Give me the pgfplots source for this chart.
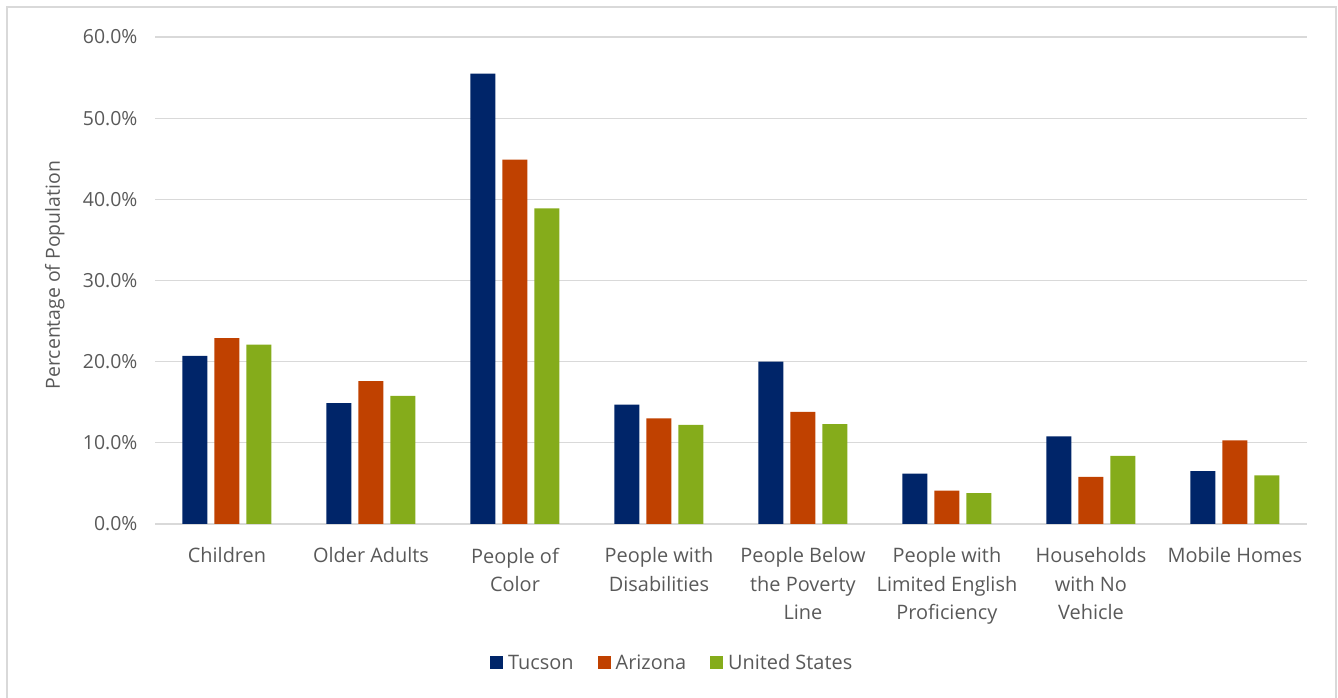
\documentclass[border=0pt]{standalone}
\usepackage{fontspec}
\setmainfont{Open Sans}
\usepackage{pgfplots}
\usepackage{pgfplotstable}
\pgfplotsset{compat=1.18}

\definecolor{tucson}{RGB}{0,37,105}
\definecolor{arizona}{RGB}{192,65,0}
\definecolor{usa}{RGB}{133,172,27}
\definecolor{txt}{RGB}{89,89,89}
\definecolor{gridc}{RGB}{217,217,217}

% Share of population in each group (percent)
\pgfplotstableread{
x tucson arizona us
0 20.7 22.9 22.1
1 14.9 17.6 15.8
2 55.5 44.9 38.9
3 14.7 13.0 12.2
4 20.0 13.8 12.3
5 6.2 4.1 3.8
6 10.8 5.8 8.4
7 6.5 10.3 6.0
}\groups

\begin{document}
\begin{tikzpicture}
\draw[gridc, line width=1.2bp] (7bp,0bp) -- (7bp,691bp) -- (1336bp,691bp) -- (1336bp,0bp);
\begin{axis}[
  at={(155bp,174bp)}, anchor=south west,
  scale only axis, width=1152bp, height=487bp,
  xmin=-0.5, xmax=7.5, ymin=0, ymax=60,
  ybar=7bp, bar width=25bp,
  axis line style={draw=none},
  tick style={draw=none},
  ymajorgrids, grid style={gridc, line width=1.3bp},
  ytick={0,10,...,60},
  yticklabel={\pgfmathprintnumber[fixed,fixed zerofill,precision=1]{\tick}\%},
  /pgf/number format/assume math mode=true,
  yticklabel style={font=\fontsize{19.5}{22}\selectfont, text=txt, xshift=-14bp},
  xtick={0,...,7},
  xticklabels={Children, Older Adults, People of\\Color, People with\\Disabilities,
    People Below\\the Poverty\\Line, People with\\Limited English\\Proficiency,
    Households\\with No\\Vehicle, Mobile Homes},
  xticklabel style={font=\fontsize{20}{28.5}\selectfont, text=txt, align=center, anchor=north, yshift=-16bp},
  ylabel={Percentage of Population},
  ylabel style={at={(axis description cs:-0.087,0.511)}, anchor=center, font=\fontsize{19.5}{22}\selectfont, text=txt},
  legend columns=3,
  legend style={at={(0.449,-0.285)}, anchor=center, draw=none, fill=none,
    font=\fontsize{20}{22}\selectfont, text=txt,
    /tikz/every odd column/.append style={column sep=3bp},
    /tikz/every even column/.append style={column sep=22bp}},
  legend image code/.code={\fill[#1] (0bp,-6.5bp) rectangle (13bp,6.5bp);},
]
\addplot[fill=tucson, draw=none] table[x=x, y=tucson] {\groups};
\addplot[fill=arizona, draw=none] table[x=x, y=arizona] {\groups};
\addplot[fill=usa, draw=none] table[x=x, y=us] {\groups};
\legend{Tucson, Arizona, United States}
\end{axis}
\pgfresetboundingbox
\useasboundingbox (0bp,0bp) rectangle (1338bp,698bp);
\end{tikzpicture}
\end{document}
